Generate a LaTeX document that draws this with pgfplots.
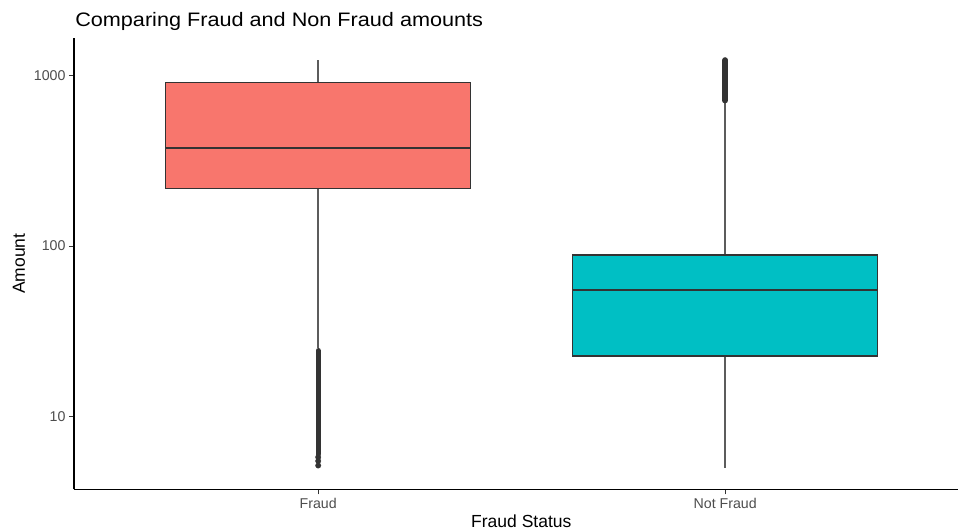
\documentclass[border=0pt]{standalone}
\usepackage{fontspec}
\setmainfont{Liberation Sans}
\newfontfamily\titlefont[FakeStretch=1.11]{Liberation Sans}
\usepackage{pgfplots}
\pgfplotsset{compat=1.18}
\usepgfplotslibrary{statistics}
\definecolor{fraud}{HTML}{F8766D}
\definecolor{nonfraud}{HTML}{00BFC4}
\definecolor{gtwenty}{HTML}{333333}
\definecolor{gthirty}{HTML}{4D4D4D}
\begin{document}
\begin{tikzpicture}
\clip (-74pt,-40.7pt) rectangle (884pt,489.3pt);
% y values are log10(Amount)
\begin{axis}[
  at={(0,0)}, anchor=south west,
  scale only axis, width=884pt, height=451pt,
  ymin=0.5747, ymax=3.2168,
  xmin=0.4, xmax=2.572,
  axis x line=bottom, axis y line=left,
  axis line style={-, black, line width=1.1pt},
  xtick={1,2}, xticklabels={Fraud,Not Fraud},
  ytick={1,2,3}, yticklabels={10,100,1000},
  minor tick num=0,
  tick align=outside, major tick length=5pt,
  tick style={gtwenty, line width=1pt},
  tick label style={font=\fontsize{14.2}{14.2}\selectfont, text=gthirty},
  /pgf/number format/assume math mode=true,
  boxplot/draw direction=y,
  boxplot/every box/.style={line width=1.3pt},
  boxplot/every whisker/.style={line width=1.5pt, draw=gtwenty!80},
  boxplot/every median/.style={line width=2.2pt, draw=gtwenty},
  title={Comparing Fraud and Non Fraud amounts},
  title style={at={(axis description cs:0.0012,1.012)}, anchor=base west, font=\titlefont\fontsize{19.5}{19.5}\selectfont, text=black, inner sep=0pt},
  xlabel={Fraud Status},
  xlabel style={at={(axis description cs:0.506,-0.0851)}, anchor=base, font=\fontsize{17.5}{17.5}\selectfont, inner sep=0pt},
  ylabel={Amount},
  ylabel style={at={(axis description cs:-0.05543,0.5)}, anchor=base, font=\fontsize{17.5}{17.5}\selectfont, inner sep=0pt},
]
% Fraud box
\addplot[boxplot prepared={median=2.574, upper quartile=2.9566, lower quartile=2.3357,
    upper whisker=3.0896, lower whisker=1.4025, draw position=1, box extend=0.75, whisker extend=0},
  fill=fraud, draw=gtwenty] coordinates {};
% Not Fraud box
\addplot[boxplot prepared={median=1.7422, upper quartile=1.9473, lower quartile=1.3556,
    upper whisker=2.852, lower whisker=0.701, draw position=2, box extend=0.75, whisker extend=0},
  fill=nonfraud, draw=gtwenty] coordinates {};
% outliers (dense bands)
\addplot[gtwenty, line width=5.4pt, line cap=round] coordinates {(1,0.7815) (1,1.3866)};
\addplot[gtwenty, only marks, mark=*, mark size=2.7pt] coordinates {(1,0.714) (1,0.7405) (1,0.763)};
\addplot[gtwenty, line width=5.6pt, line cap=round] coordinates {(2,2.852) (2,3.0896)};
\end{axis}
\end{tikzpicture}
\end{document}
